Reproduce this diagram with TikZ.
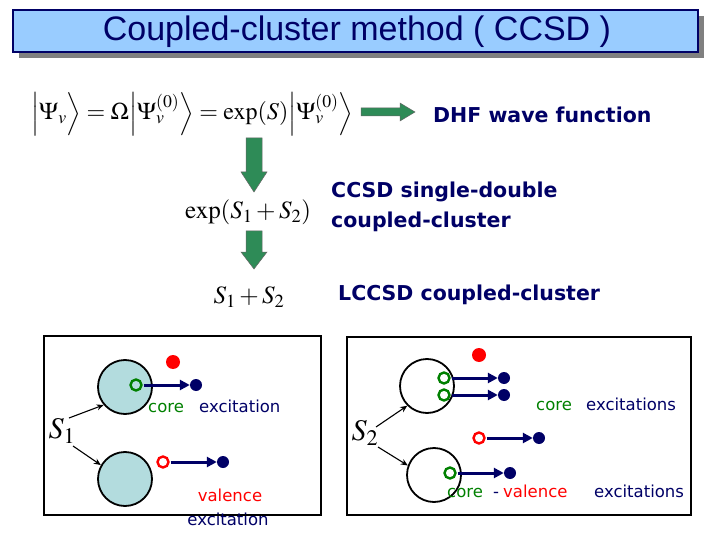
\documentclass[tikz,border=0pt]{standalone}
\usepackage{amsmath}
\usepackage{mathptmx}
\usepackage{fontspec}
\setmainfont{Liberation Sans}
\newfontfamily\verd{DejaVu Sans}
\usetikzlibrary{arrows.meta}
\definecolor{navy}{HTML}{000066}
\definecolor{titlefill}{HTML}{99CCFF}
\definecolor{agreen}{HTML}{2E8B57}
\definecolor{cgreen}{HTML}{008000}
\definecolor{cblue}{HTML}{B3DCDE}
\tikzset{
  bigarrow/.style={fill=agreen, draw=black!60, line width=0.5pt},
  hdrtext/.style={font=\verd\fontsize{20.5}{29.5}\selectfont\bfseries, text=navy, anchor=west, align=left, inner sep=0pt},
  ring/.style={circle, draw=#1, line width=2.4pt, minimum size=11pt, inner sep=0pt},
  ndot/.style={circle, fill=navy, minimum size=12pt, inner sep=0pt},
  rdot/.style={circle, fill=red, minimum size=14pt, inner sep=0pt},
  exarrow/.style={-{Triangle[length=10pt,width=10pt]}, line width=3pt, draw=navy, shorten <=1pt},
  sarrow/.style={-{Stealth[length=7pt,width=6pt]}, line width=1.1pt},
  atom/.style={circle, draw=black, line width=1.8pt, minimum size=54pt, inner sep=0pt},
  lbl/.style={font=\verd\fontsize{16.5}{18}\selectfont, inner sep=0pt},
  box/.style={draw=black, line width=2.6pt},
  mth/.style={font=\fontsize{25}{28}\selectfont, inner sep=0pt},
}
\begin{document}
\begin{tikzpicture}[x=1pt,y=-1pt]
\useasboundingbox (0,0) rectangle (720,540);
% title
\fill[black!50] (19,16) rectangle (704,58);
\draw[draw=navy, fill=titlefill, line width=2pt] (13,10) rectangle (698,52);
\node[font=\fontsize{34}{38}\selectfont, text=navy] (title) at (357,32) {Coupled-cluster method ( CCSD )};
% equation
\node[font=\fontsize{24}{28}\selectfont, inner sep=0pt, anchor=west] (eq) at (31,114)
 {$\Bigl|\Psi_{v}\Bigr\rangle = \Omega\Bigl|\Psi_{v}^{(0)}\Bigr\rangle = \exp(S)\Bigl|\Psi_{v}^{(0)}\Bigr\rangle$};
\path[bigarrow] (361,108) -- (400,108) -- (400,103) -- (415,112) -- (400,121) -- (400,116) -- (361,116) -- cycle;
\node[hdrtext] (dhf) at (433,115) {DHF wave function};
% down arrows
\path[bigarrow] (246,138) -- (262,138) -- (262,172) -- (267,172) -- (254,192) -- (241,172) -- (246,172) -- cycle;
\node[mth] (exps) at (248,212) {$\exp(S_1+S_2)$};
\node[hdrtext] (ccsd) at (331,207) {CCSD single-double\\coupled-cluster};
\path[bigarrow] (246,231) -- (262,231) -- (262,252) -- (267,252) -- (254,269) -- (241,252) -- (246,252) -- cycle;
\node[mth] (s12) at (249,297) {$S_1+S_2$};
\node[hdrtext] (lccsd) at (338,295) {LCCSD coupled-cluster};
% left box
\draw[box] (44,336) rectangle (321,515);
\node[atom, fill=cblue] (c1) at (125,387) {};
\node[atom, fill=cblue] (c2) at (125,479) {};
\node[rdot] (r1) at (173,362) {};
\node[ring=cgreen] (g1) at (136,385) {};
\node[ndot] (n1) at (196,385) {};
\draw[exarrow] (g1) -- (n1);
\node[lbl, text=cgreen, anchor=base west] (core1) at (148,412) {core};
\node[lbl, text=navy, anchor=base west] (exc1) at (199,412) {excitation};
\node[font=\fontsize{30}{32}\selectfont, inner sep=0pt] (s1) at (62,431) {$S_1$};
\coordinate (s1a) at (69,418);
\coordinate (s1b) at (73,446);
\draw[sarrow] (s1a) -- (c1.220);
\draw[sarrow] (s1b) -- (c2.150);
\node[ring=red] (rv) at (163,462) {};
\node[ndot] (n2) at (223,462) {};
\draw[exarrow] (rv) -- (n2);
\node[lbl, text=red, anchor=base] (val) at (230,501) {valence};
\node[lbl, text=navy, anchor=base] (exc2) at (228,525) {excitation};
% right box
\draw[box] (347,337) rectangle (691,515);
\node[atom] (d1) at (427,386) {};
\node[atom] (d2) at (434,475) {};
\node[rdot] (r2) at (479,355) {};
\node[ring=cgreen] (g2) at (444,378) {};
\node[ring=cgreen] (g3) at (444,395) {};
\node[ndot] (n3) at (504,378) {};
\node[ndot] (n4) at (504,395) {};
\draw[exarrow] (g2) -- (n3);
\draw[exarrow] (g3) -- (n4);
\node[lbl, text=cgreen, anchor=base west] (core2) at (536,410) {core};
\node[lbl, text=navy, anchor=base west] (exc3) at (586,410) {excitations};
\node[ring=red] (rv2) at (479,438) {};
\node[ndot] (n5) at (539,438) {};
\draw[exarrow] (rv2) -- (n5);
\node[font=\fontsize{30}{32}\selectfont, inner sep=0pt] (s2) at (365,433) {$S_2$};
\coordinate (s2a) at (376,427);
\coordinate (s2b) at (378,447);
\draw[sarrow] (s2a) -- (d1.225);
\draw[sarrow] (s2b) -- (d2.160);
\node[ring=cgreen] (g4) at (450,473) {};
\node[ndot] (n6) at (510,473) {};
\draw[exarrow] (g4) -- (n6);
\node[lbl, text=cgreen, anchor=base west] (core3) at (447,497) {core};
\node[lbl, text=navy, anchor=base west] (dash) at (493,497) {-};
\node[lbl, text=red, anchor=base west] (val2) at (503,497) {valence};
\node[lbl, text=navy, anchor=base west] (exc4) at (594,497) {excitations};
\end{tikzpicture}
\end{document}
